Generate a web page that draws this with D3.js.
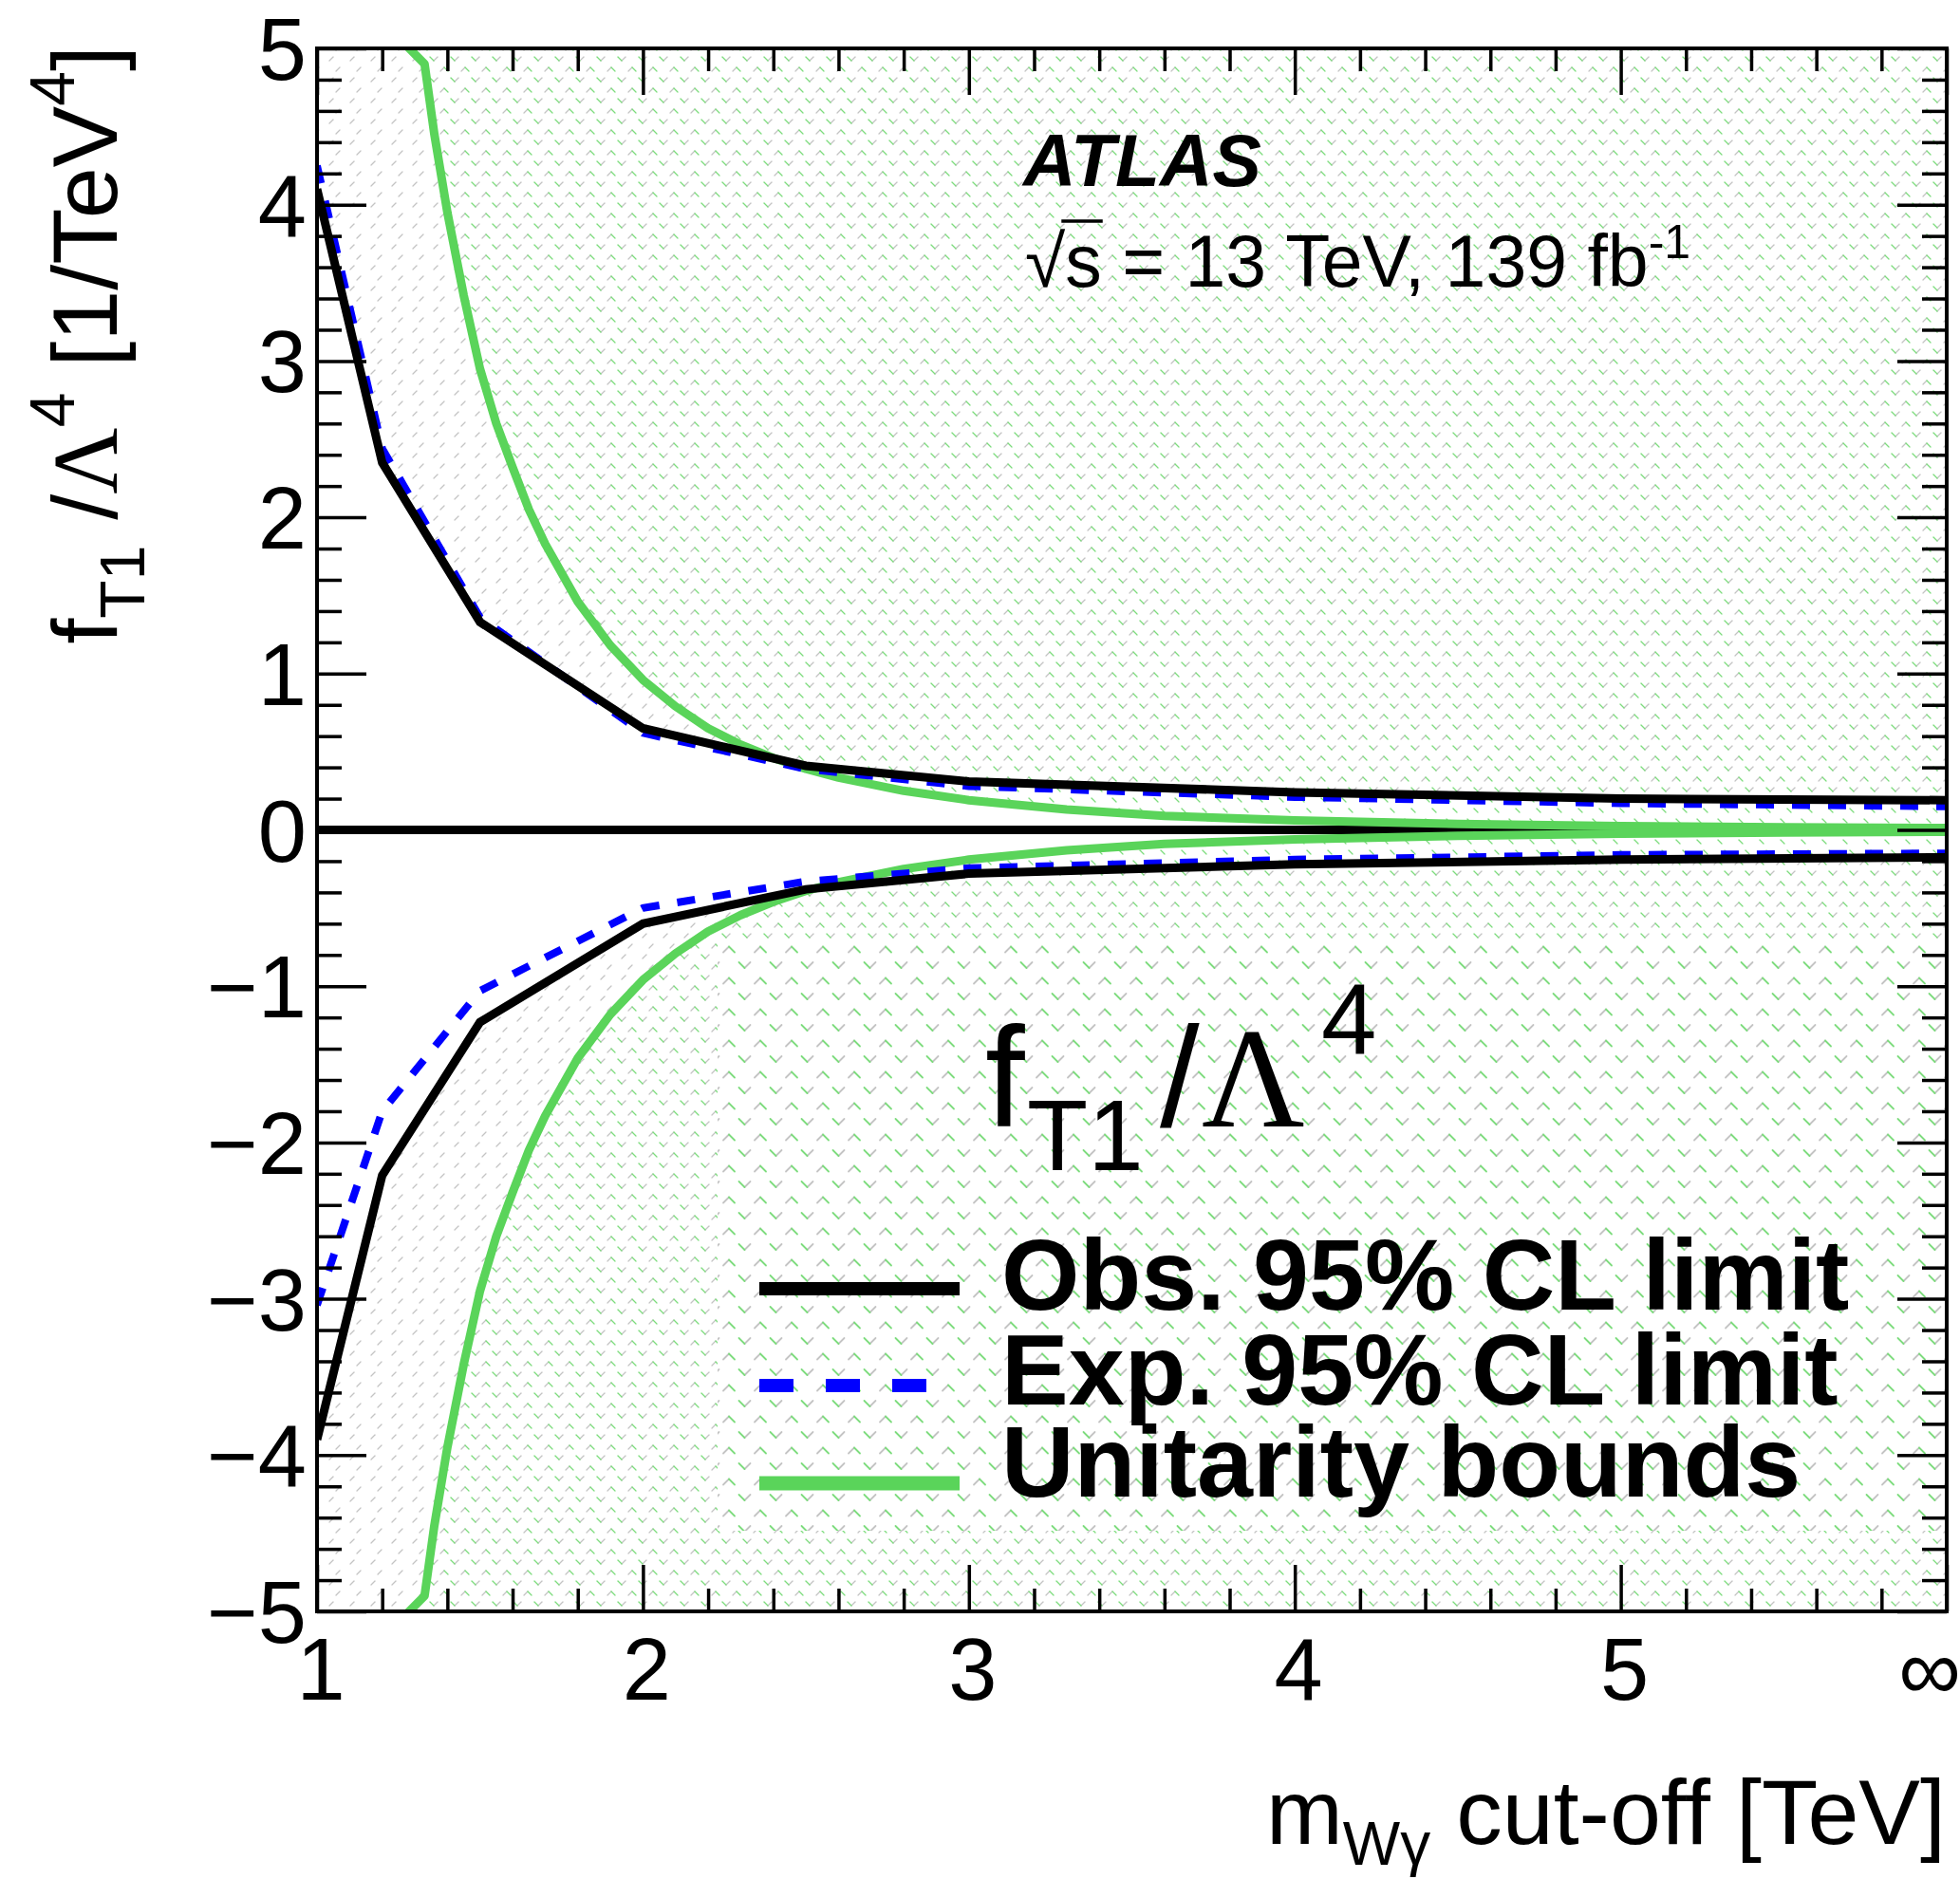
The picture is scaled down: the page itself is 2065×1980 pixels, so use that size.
<!DOCTYPE html>
<html>
<head>
<meta charset="utf-8">
<script src="https://cdn.jsdelivr.net/npm/d3@7"></script>
<style>
  body { margin: 0; background: #ffffff; }
  svg text { font-family: "Liberation Sans", Arial, Helvetica, sans-serif; fill: #000; }
</style>
</head>
<body>
<svg id="chart" width="2065" height="1980"></svg>
<script>
// ---- limits on f_T1/Λ^4 versus the m_Wγ cut-off (TeV); 6 stands for no cut-off (∞) ----
const cutoffs  = [1.0, 1.2, 1.5, 2.0, 2.5, 3.0, 4.0, 5.0, 6.0];
const obsUpper = [4.10, 2.35, 1.33, 0.65, 0.41, 0.31, 0.24, 0.20, 0.19];
const obsLower = [-3.90, -2.21, -1.23, -0.60, -0.38, -0.28, -0.22, -0.19, -0.176];
const expUpper = [4.25, 2.44, 1.36, 0.62, 0.39, 0.28, 0.21, 0.17, 0.15];
const expLower = [-3.04, -1.80, -1.03, -0.50, -0.33, -0.245, -0.19, -0.16, -0.15];

// unitarity bound (symmetric, ±)
const unitarityCut   = [1.0, 1.33, 1.36, 1.4, 1.45, 1.5, 1.55, 1.6, 1.65, 1.7, 1.8, 1.9, 2.0, 2.1, 2.2, 2.3, 2.4, 2.5, 2.6, 2.8, 3.0, 3.3, 3.6, 4.0, 4.5, 5.0, 5.5, 6.0];
const unitarityBound = [5.6, 4.9, 4.45, 3.95, 3.42, 2.95, 2.60, 2.32, 2.05, 1.83, 1.46, 1.18, 0.96, 0.79, 0.65, 0.545, 0.46, 0.39, 0.335, 0.25, 0.19, 0.13, 0.09, 0.06, 0.038, 0.025, 0.017, 0.012];

// axis ticks and labels
const xMajorTicks = [1, 2, 3, 4, 5, 6];
const xTickLabels = ["1", "2", "3", "4", "5", "\u221E"];
const yMajorTicks = [-5, -4, -3, -2, -1, 0, 1, 2, 3, 4, 5];
const yTickLabels = ["\u22125", "\u22124", "\u22123", "\u22122", "\u22121", "0", "1", "2", "3", "4", "5"];

const legendLabels = ["Obs. 95% CL limit", "Exp. 95% CL limit", "Unitarity bounds"];

// ---------------------------------------------------------------------------
const svg = d3.select("#chart");
const frame = { left: 334, right: 2051, top: 51, bottom: 1698 };

const x = d3.scaleLinear().domain([1, 6]).range([frame.left, frame.right]);
const y = d3.scaleLinear().domain([-5, 5]).range([frame.bottom, frame.top]);

const defs = svg.append("defs");
defs.append("clipPath").attr("id", "frameClip")
  .append("rect")
  .attr("x", frame.left).attr("y", frame.top)
  .attr("width", frame.right - frame.left).attr("height", frame.bottom - frame.top);

// hatch patterns: grey "/" for the excluded region, green "\" beyond unitarity
function hatch(id, color, segs, scale, sw) {
  const p = defs.append("pattern").attr("id", id)
    .attr("patternUnits", "userSpaceOnUse")
    .attr("width", 22).attr("height", 22)
    .attr("patternTransform", `scale(${scale})`);
  segs.forEach(s => p.append("line")
    .attr("x1", s[0]).attr("y1", s[1]).attr("x2", s[2]).attr("y2", s[3])
    .attr("stroke", color).attr("stroke-width", sw).attr("stroke-linecap", "round"));
}
const greySegs  = [[2, 9, 6, 5], [17, 20, 21, 16]];
const greenSegs = [[6, 5, 10, 9], [13, 16, 17, 20]];
hatch("hatchGrey", "#c4c4c4", greySegs, 1, 1.3);
hatch("hatchGreen", "#7ddc7d", greenSegs, 1, 1.3);
hatch("hatchGreyL", "#c4c4c4", greySegs, 1.5, 1.2);
hatch("hatchGreenL", "#7ddc7d", greenSegs, 1.5, 1.2);

const plot = svg.append("g").attr("clip-path", "url(#frameClip)");

const obsPts = cutoffs.map((c, i) => ({ c, up: obsUpper[i], lo: obsLower[i] }));
const expPts = cutoffs.map((c, i) => ({ c, up: expUpper[i], lo: expLower[i] }));
const uniPts = unitarityCut.map((c, i) => ({ c, b: unitarityBound[i] }));

// excluded regions (outside the observed limits)
plot.append("path").datum(obsPts)
  .attr("d", d3.area().x(d => x(d.c)).y0(y(5.5)).y1(d => y(d.up)))
  .attr("fill", "url(#hatchGrey)");
plot.append("path").datum(obsPts)
  .attr("d", d3.area().x(d => x(d.c)).y0(y(-5.5)).y1(d => y(d.lo)))
  .attr("fill", "url(#hatchGrey)");
// regions beyond the unitarity bounds
plot.append("path").datum(uniPts)
  .attr("d", d3.area().x(d => x(d.c)).y0(y(6)).y1(d => y(d.b)))
  .attr("fill", "url(#hatchGreen)");
plot.append("path").datum(uniPts)
  .attr("d", d3.area().x(d => x(d.c)).y0(y(-6)).y1(d => y(-d.b)))
  .attr("fill", "url(#hatchGreen)");

// legend box carries its own, coarser hatching
const legBox = { x0: 756, x1: frame.right, y0: 990, y1: 1613 };
["#ffffff", "url(#hatchGreyL)", "url(#hatchGreenL)"].forEach(f =>
  plot.append("rect").attr("x", legBox.x0).attr("y", legBox.y0)
    .attr("width", legBox.x1 - legBox.x0).attr("height", legBox.y1 - legBox.y0)
    .attr("fill", f));

// zero line
plot.append("line")
  .attr("x1", x(1)).attr("x2", x(6)).attr("y1", y(0)).attr("y2", y(0))
  .attr("stroke", "#000").attr("stroke-width", 9);

// curves
const lineUp = d3.line().x(d => x(d.c)).y(d => y(d.up));
const lineLo = d3.line().x(d => x(d.c)).y(d => y(d.lo));
const uniUp = d3.line().x(d => x(d.c)).y(d => y(d.b));
const uniLo = d3.line().x(d => x(d.c)).y(d => y(-d.b));

const greenCol = "#5ad45a";
[uniUp, uniLo].forEach(g => plot.append("path").datum(uniPts)
  .attr("d", g).attr("fill", "none").attr("stroke", greenCol)
  .attr("stroke-width", 9).attr("stroke-linejoin", "round"));
[lineUp, lineLo].forEach(g => plot.append("path").datum(expPts)
  .attr("d", g).attr("fill", "none").attr("stroke", "#0000ff")
  .attr("stroke-width", 8).attr("stroke-dasharray", "19,19"));
[lineUp, lineLo].forEach(g => plot.append("path").datum(obsPts)
  .attr("d", g).attr("fill", "none").attr("stroke", "#000")
  .attr("stroke-width", 9).attr("stroke-linejoin", "miter"));

// frame
svg.append("rect")
  .attr("x", frame.left).attr("y", frame.top)
  .attr("width", frame.right - frame.left).attr("height", frame.bottom - frame.top)
  .attr("fill", "none").attr("stroke", "#000").attr("stroke-width", 4);

// ticks (inward on all four sides)
const xMinor = d3.range(0, 26).map(i => 1 + i * 0.2).filter(v => Math.abs(v - Math.round(v)) > 1e-6);
const yMinor = d3.range(0, 51).map(i => -5 + i * 0.2).filter(v => Math.abs(v - Math.round(v)) > 1e-6);

function tickAxis(gen, pos, values, size) {
  const g = svg.append("g").attr("transform", pos)
    .call(gen.tickValues(values).tickSize(size).tickFormat(""));
  g.select(".domain").remove();
  g.selectAll(".tick line").attr("stroke", "#000").attr("stroke-width", 3.5);
}
tickAxis(d3.axisBottom(x), `translate(0,${frame.bottom})`, xMajorTicks, -49);
tickAxis(d3.axisBottom(x), `translate(0,${frame.bottom})`, xMinor, -24);
tickAxis(d3.axisTop(x), `translate(0,${frame.top})`, xMajorTicks, -49);
tickAxis(d3.axisTop(x), `translate(0,${frame.top})`, xMinor, -24);
tickAxis(d3.axisLeft(y), `translate(${frame.left},0)`, yMajorTicks, -52);
tickAxis(d3.axisLeft(y), `translate(${frame.left},0)`, yMinor, -26);
tickAxis(d3.axisRight(y), `translate(${frame.right},0)`, yMajorTicks, -52);
tickAxis(d3.axisRight(y), `translate(${frame.right},0)`, yMinor, -26);

// tick labels (the ∞ label is pulled in so it stays on the page)
svg.append("g").selectAll("text").data(xMajorTicks).join("text")
  .attr("x", d => d === 6 ? x(d) - 18 : x(d) + 4).attr("y", 1791)
  .attr("text-anchor", "middle").attr("font-size", 92)
  .text((d, i) => xTickLabels[i]);
svg.append("g").selectAll("text").data(yMajorTicks).join("text")
  .attr("x", 323).attr("y", d => y(d) + 33)
  .attr("text-anchor", "end").attr("font-size", 92)
  .text((d, i) => yTickLabels[i]);

// axis titles
const xt = svg.append("text").attr("x", 2050).attr("y", 1943)
  .attr("text-anchor", "end").attr("font-size", 97);
xt.append("tspan").text("m");
xt.append("tspan").attr("font-size", 64).attr("dy", 22).text("W\u03B3");
xt.append("tspan").attr("dy", -22).text(" cut-off [TeV]");

const yt = svg.append("text").attr("transform", "translate(123,48) rotate(-90)")
  .attr("text-anchor", "end").attr("font-size", 97);
yt.append("tspan").text("f");
yt.append("tspan").attr("font-size", 66).attr("dy", 29).text("T1");
yt.append("tspan").attr("dy", -29).text(" /");
yt.append("tspan").attr("font-family", "'Liberation Serif', 'Times New Roman', serif").text("\u039B");
yt.append("tspan").attr("font-size", 66).attr("dy", -45).text("4");
yt.append("tspan").attr("dy", 45).text(" [1/TeV");
yt.append("tspan").attr("font-size", 66).attr("dy", -45).text("4");
yt.append("tspan").attr("dy", 45).text("]");

// experiment label
svg.append("text").attr("x", 1078).attr("y", 196)
  .attr("font-size", 77).attr("font-weight", "bold").attr("font-style", "italic")
  .text("ATLAS");
const en = svg.append("text").attr("x", 1080).attr("y", 302).attr("font-size", 77);
en.append("tspan").text("\u221As");
en.append("tspan").text(" = 13 TeV, 139 fb");
en.append("tspan").attr("font-size", 50).attr("dy", -30).text("-1");
// bar of the square root over "s"
{
  const node = en.node();
  const x1 = node.getEndPositionOfChar(1).x;
  const rootEnd = node.getEndPositionOfChar(0).x;
  svg.append("line")
    .attr("x1", rootEnd - 4).attr("x2", x1 + 1)
    .attr("y1", 302 - 69).attr("y2", 302 - 69)
    .attr("stroke", "#000").attr("stroke-width", 3.5);
}

// legend header: f_T1 / Λ^4, pieces placed side by side
const hdr = svg.append("g");
hdr.append("text").attr("x", 1038).attr("y", 1187).attr("font-size", 150).text("f");
hdr.append("text").attr("x", 1082).attr("y", 1233).attr("font-size", 105).text("T1");
hdr.append("text").attr("x", 1222).attr("y", 1187).attr("font-size", 150).text("/");
hdr.append("text").attr("x", 1266).attr("y", 1187).attr("font-size", 150)
  .style("font-family", "'Liberation Serif', 'Times New Roman', serif").text("\u039B");
hdr.append("text").attr("x", 1392).attr("y", 1111).attr("font-size", 105).text("4");

const legendStyles = [
  { color: "#000000", dash: null, width: 14 },
  { color: "#0000ff", dash: "36,34", width: 14 },
  { color: greenCol, dash: null, width: 15 }
];
const legendBaselines = [1380, 1480, 1577];
const legendSampleY = [1358, 1460, 1563];
legendLabels.forEach((lab, i) => {
  svg.append("line")
    .attr("x1", 800).attr("x2", legendStyles[i].dash ? 978 : 1011)
    .attr("y1", legendSampleY[i]).attr("y2", legendSampleY[i])
    .attr("stroke", legendStyles[i].color).attr("stroke-width", legendStyles[i].width)
    .attr("stroke-dasharray", legendStyles[i].dash);
  svg.append("text").attr("x", 1055).attr("y", legendBaselines[i])
    .attr("font-size", 106).attr("font-weight", "bold").text(lab);
});
</script>
</body>
</html>
